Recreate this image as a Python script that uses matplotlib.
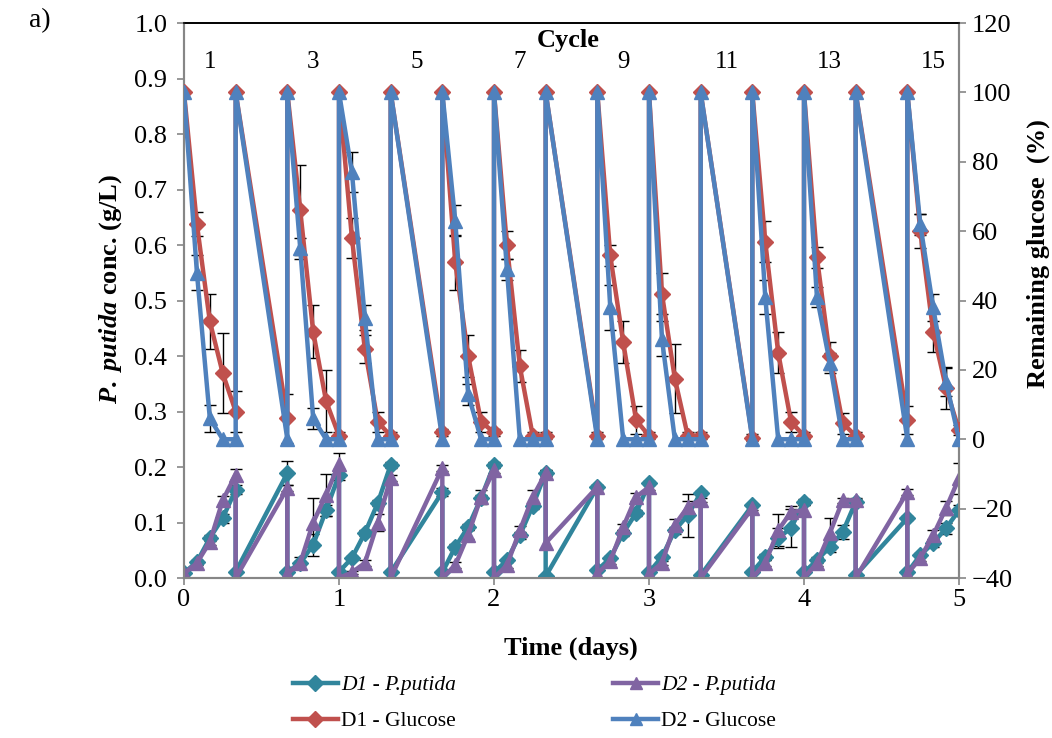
import numpy as np
import matplotlib.pyplot as plt
from matplotlib.transforms import blended_transform_factory

plt.rcParams['font.family'] = ['Liberation Serif', 'DejaVu Serif']
plt.rcParams['mathtext.fontset'] = 'custom'
plt.rcParams['mathtext.it'] = 'Liberation Serif:italic:bold'
plt.rcParams['mathtext.rm'] = 'Liberation Serif:bold'

# sampling times (h); each cycle is 8 h, unsampled cycles only have start/end
HOURS = [0, 2, 4, 6, 8,      8, 16,
         16, 18, 20, 22, 24,  24, 26, 28, 30, 32,  32, 40,
         40, 42, 44, 46, 48,  48, 50, 52, 54, 56,  56, 64,
         64, 66, 68, 70, 72,  72, 74, 76, 78, 80,  80, 88,
         88, 90, 92, 94, 96,  96, 98, 100, 102, 104,  104, 112,
         112, 114, 116, 118, 120]

# remaining glucose (%)
GLC_D1 = [100, 62, 34, 19, 8,   100, 6,
          100, 66, 31, 11, 1,   100, 58, 26, 5, 1,   100, 2,
          100, 51, 24, 5, 2,    100, 56, 21, 1, 1,   100, 1,
          100, 53, 28, 5.5, 1,  100, 42, 17.5, 1, 1, 100, 0.5,
          100, 57, 25, 5, 1,    100, 52.5, 24, 4.6, 1, 100, 5.5,
          100, 60, 31, 14.7, 2.6]
GLC_D2 = [100, 48, 6, 0, 0,     100, 0,
          100, 55, 6, 0, 0,     100, 77, 35, 0, 0,   100, 0,
          100, 63, 13, 0, 0,    100, 49, 0, 0, 0,    100, 0,
          100, 38, 0, 0, 0,     100, 29, 0, 0, 0,    100, 0,
          100, 41, 0, 0, 0,     100, 41, 22, 0, 0,   100, 0,
          100, 62, 38, 16.5, 0]
GLC_D1_ERR = [0, 3.5, 8, 11.5, 6,  0, 7,
              0, 13, 7.7, 9, 1,    0, 5.8, 4, 3, 1,   0, 1,
              0, 8, 6, 3, 1,       0, 4, 4.6, 1, 1,   0, 1,
              0, 3, 6, 4, 1,       0, 6, 10, 1, 1,    0, 1,
              0, 6, 5.8, 3, 1,     0, 3, 4, 3, 1,     0, 4,
              0, 5, 5.8, 6, 1.5]
GLC_D2_ERR = [0, 5, 4, 0, 0,      0, 0,
              0, 3, 3, 0, 0,      0, 5.8, 3.6, 0, 0,  0, 0,
              0, 4.5, 3, 0, 0,    0, 3, 0, 0, 0,      0, 0,
              0, 6.5, 0, 0, 0,    0, 5, 0, 0, 0,      0, 0,
              0, 5, 0, 0, 0,      0, 3, 3, 0, 0,      0, 0,
              0, 3, 4, 4, 0]

# P. putida concentration (g/L)
PP_D1 = [0.009, 0.029, 0.072, 0.108, 0.159,  0.011, 0.189,
         0.011, 0.027, 0.060, 0.122, 0.186,  0.011, 0.036, 0.081, 0.135, 0.204,  0.010, 0.155,
         0.010, 0.056, 0.092, 0.144, 0.204,  0.010, 0.032, 0.077, 0.130, 0.190,  0.003, 0.164,
         0.014, 0.036, 0.081, 0.117, 0.171,  0.010, 0.038, 0.086, 0.113, 0.153,  0.005, 0.131,
         0.011, 0.038, 0.072, 0.090, 0.137,  0.010, 0.032, 0.056, 0.083, 0.137,  0.005, 0.108,
         0.010, 0.041, 0.063, 0.090, 0.122]
PP_D2 = [0.008, 0.027, 0.065, 0.140, 0.186,  0.000, 0.162,
         0.008, 0.027, 0.100, 0.150, 0.206,  0.000, 0.010, 0.027, 0.100, 0.180,  0.000, 0.198,
         0.000, 0.023, 0.078, 0.146, 0.195,  0.000, 0.023, 0.086, 0.146, 0.189,  0.063, 0.164,
         0.008, 0.030, 0.092, 0.146, 0.164,  0.007, 0.027, 0.096, 0.128, 0.141,  0.000, 0.126,
         0.000, 0.027, 0.086, 0.119, 0.122,  0.000, 0.027, 0.081, 0.140, 0.140,  0.000, 0.155,
         0.007, 0.036, 0.077, 0.126, 0.180]
PP_D1_ERR = [0, 0.003, 0.005, 0.008, 0.008,  0, 0.022,
             0, 0.003, 0.020, 0.010, 0.010,  0, 0.003, 0.005, 0.005, 0.005,  0, 0.008,
             0, 0.005, 0.005, 0.006, 0.005,  0, 0.003, 0.006, 0.005, 0.005,  0, 0.004,
             0, 0.003, 0.006, 0.005, 0.004,  0, 0.003, 0.006, 0.039, 0.004,  0, 0.003,
             0, 0.005, 0.018, 0.034, 0.005,  0, 0.005, 0.010, 0.013, 0.005,  0, 0.003,
             0, 0.004, 0.008, 0.010, 0.010]
PP_D2_ERR = [0, 0.003, 0.005, 0.008, 0.010,  0, 0.005,
             0, 0.010, 0.045, 0.038, 0.020,  0, 0.003, 0.005, 0.015, 0.005,  0, 0.005,
             0, 0.005, 0.008, 0.012, 0.005,  0, 0.005, 0.008, 0.012, 0.005,  0, 0.003,
             0, 0.004, 0.006, 0.008, 0.005,  0, 0.004, 0.010, 0.010, 0.004,  0, 0.003,
             0, 0.005, 0.029, 0.010, 0.010,  0, 0.005, 0.028, 0.005, 0.005,  0, 0.005,
             0, 0.005, 0.010, 0.012, 0.028]

CYCLE_LABELS = [1, 3, 5, 7, 9, 11, 13, 15]

TEAL = '#31859C'
PURPLE = '#8064A2'
RED = '#C0504D'
BLUE = '#4F81BD'
GRAY = '#868686'

t = np.array(HOURS) / 24.0

fig = plt.figure(figsize=(10.52, 7.38), dpi=100)
ax = fig.add_axes([0.1749, 0.2168, 0.7367, 0.752])
ax2 = ax.twinx()


def err(axis, y, e):
    y = np.asarray(y)
    e = np.asarray(e)
    m = e > 0
    axis.errorbar(t[m], y[m], yerr=e[m], fmt='none', ecolor='black',
                  elinewidth=1.0, capsize=4.5, capthick=1.0, zorder=1)


# P. putida (left axis)
err(ax, PP_D1, PP_D1_ERR)
err(ax, PP_D2, PP_D2_ERR)
l1, = ax.plot(t, PP_D1, color=TEAL, lw=3.2, marker='D', ms=8.5, mec=TEAL,
              label='D1 - P.putida', zorder=3)
l2, = ax.plot(t, PP_D2, color=PURPLE, lw=3.2, marker='^', ms=10, mec=PURPLE,
              label='D2 - P.putida', zorder=4)

# glucose (right axis)
err(ax2, GLC_D1, GLC_D1_ERR)
err(ax2, GLC_D2, GLC_D2_ERR)
l3, = ax2.plot(t, GLC_D1, color=RED, lw=3.2, marker='D', ms=8.5, mec=RED,
               label='D1 - Glucose', zorder=3)
l4, = ax2.plot(t, GLC_D2, color=BLUE, lw=3.2, marker='^', ms=10, mec=BLUE,
               label='D2 - Glucose', zorder=4)

ax.set_xlim(0, 5)
ax.set_ylim(0, 1.0)
ax2.set_ylim(-40, 120)
ax.set_xticks(range(6))
ax.set_yticks(np.arange(0, 1.01, 0.1))
ax.set_yticklabels([f'{v:.1f}' for v in np.arange(0, 1.01, 0.1)])
ax2.set_yticks(range(-40, 121, 20))

for a in (ax, ax2):
    for s in a.spines.values():
        s.set_color(GRAY)
        s.set_linewidth(1.5)
    a.spines['top'].set_color('black')
    a.spines['top'].set_linewidth(1.2)
    a.tick_params(direction='out', length=5, width=1.2, color=GRAY,
                  labelsize=19, labelcolor='black')
ax.tick_params(axis='y', pad=7)
ax.tick_params(axis='x', pad=3)
ax2.tick_params(axis='y', pad=4)

ax.set_ylabel(r'$\mathit{P.\ putida}$ conc. (g/L)', fontsize=19, fontweight='bold')
ax.yaxis.set_label_coords(-0.077, 0.52)
ax2.set_ylabel('Remaining glucose  (%)', fontsize=19, fontweight='bold')
ax2.yaxis.set_label_coords(1.087, 0.585)
ax.set_xlabel('Time (days)', fontsize=19, fontweight='bold')
ax.xaxis.set_label_coords(0.4994, -0.106)

# cycle annotations at top
tr = blended_transform_factory(ax.transData, ax.transAxes)
ax.text(2.48, 0.969, 'Cycle', transform=tr, ha='center', va='center',
        fontsize=19, fontweight='bold')
for c in CYCLE_LABELS:
    ax.text((c - 0.5) * 8 / 24, 0.93, str(c), transform=tr, ha='center',
            va='center', fontsize=18)

fig.text(0.028, 0.972, 'a)', fontsize=20, ha='left', va='center')

leg = fig.legend([l1, l3, l2, l4],
                 ['D1 - P.putida', 'D1 - Glucose', 'D2 - P.putida', 'D2 - Glucose'],
                 loc='center', bbox_to_anchor=(0.508, 0.047), ncol=2, frameon=False,
                 fontsize=15.5, handlelength=2.1, handletextpad=0.15,
                 columnspacing=7.3, labelspacing=0.75, markerscale=0.9)
for i in (0, 2):
    leg.get_texts()[i].set_fontstyle('italic')

fig.savefig('out.png', dpi=100)
